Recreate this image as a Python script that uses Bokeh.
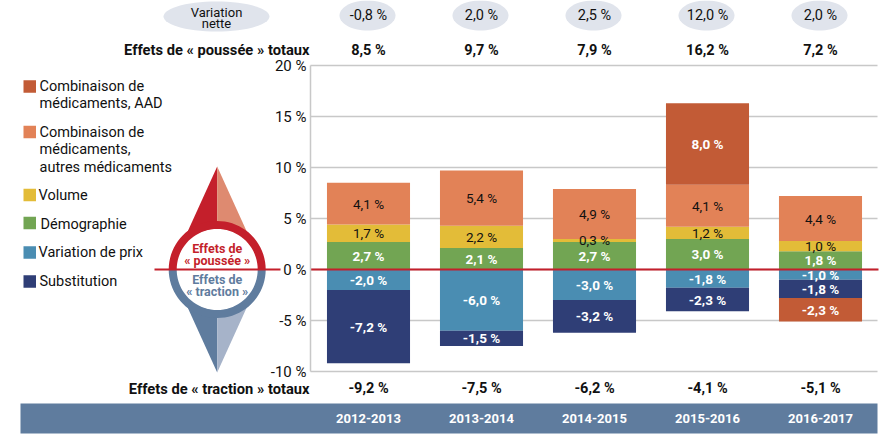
import math
from bokeh.plotting import figure
from bokeh.models import (Range1d, Label, LabelSet, ColumnDataSource, PolyAnnotation,
                          FixedTicker, LinearAxis)
from bokeh.core.properties import value
from bokeh.embed import file_html
from bokeh.resources import INLINE

years = ["2012-2013", "2013-2014", "2014-2015", "2015-2016", "2016-2017"]
net_change = ["-0,8 %", "2,0 %", "2,5 %", "12,0 %", "2,0 %"]
push_totals = ["8,5 %", "9,7 %", "7,9 %", "16,2 %", "7,2 %"]
pull_totals = ["-9,2 %", "-7,5 %", "-6,2 %", "-4,1 %", "-5,1 %"]
demographie = [2.7, 2.1, 2.7, 3.0, 1.8]
volume = [1.7, 2.2, 0.3, 1.2, 1.0]
combo_autres = [4.1, 5.4, 4.9, 4.1, 4.4]
combo_aad = [0, 0, 0, 8.0, -2.3]
prix = [-2.0, -6.0, -3.0, -1.8, -1.0]
substitution = [-7.2, -1.5, -3.2, -2.3, -1.8]
y_ticks = [-10, -5, 0, 5, 10, 15, 20]

C_AAD, C_AUT, C_VOL, C_DEM, C_PRI, C_SUB = "#C25B36", "#E28257", "#E3BC38", "#72A553", "#4A8DB2", "#2F3E76"
RED, BLUE = "#C41F2B", "#5F7C9E"
FONT = "Roboto"

W, H = 892, 438
X0, DX = 368.0, 113.0      # pixel of first category, pixels per category
Y0, DY = 269.0, 10.2       # pixel of 0 %, pixels per percentage point
idx = list(range(5))

p = figure(width=W, height=H, output_backend="svg", toolbar_location=None,
           x_axis_location=None, y_axis_location=None,
           x_range=Range1d(-X0 / DX, (W - X0) / DX),
           y_range=Range1d((Y0 - H) / DY, Y0 / DY),
           min_border=0, outline_line_color=None, background_fill_color="white")
p.grid.visible = False


def xd(x):
    return (x - X0) / DX


def poly(xs, ys, color):
    p.add_layout(PolyAnnotation(xs=xs, ys=ys, xs_units="canvas", ys_units="canvas", fill_color=color,
                                fill_alpha=1, line_color=None, line_alpha=0, level="underlay"))


def arc(cx, cy, r, a0, a1, n=40):
    return [(cx + r * math.cos(math.radians(a0 + (a1 - a0) * i / n)),
             cy - r * math.sin(math.radians(a0 + (a1 - a0) * i / n))) for i in range(n + 1)]


def ellipse(cx, cy, rx, ry, color):
    pts = arc(0, 0, 1, 0, 360, 60)
    poly([cx + rx * a for a, _ in pts], [cy + ry * b for _, b in pts], color)


def txt(x, y, s, size=14, color="#111111", align="left", style="normal", font=FONT):
    p.add_layout(Label(x=x, y=y, x_units="canvas", y_units="canvas", text=s, text_font=font,
                       text_font_size=f"{size}px", text_color=color, text_align=align,
                       text_baseline="middle", text_font_style=style))


# gridlines and axis
p.segment(x0=[xd(310)] * len(y_ticks), x1=[xd(877)] * len(y_ticks), y0=y_ticks, y1=y_ticks,
          line_color="#C8C8C8", line_width=1.5, level="underlay")
ya = LinearAxis(fixed_location=xd(310), ticker=FixedTicker(ticks=y_ticks), bounds=(-10, 20))
ya.major_label_overrides = {t: f"{t} %" for t in y_ticks}
ya.major_tick_line_color = None
ya.minor_tick_line_color = None
ya.major_tick_out = 0
ya.major_tick_in = 0
ya.axis_line_color = "#C8C8C8"
ya.axis_line_width = 1.5
ya.major_label_text_font = FONT
ya.major_label_text_font_size = "15px"
ya.major_label_text_color = "#111111"
ya.major_label_standoff = 4
p.add_layout(ya, "left")

# banner
poly([20, 877, 877, 20], [403, 403, 433, 433], "#5F7C9E")


def stack(series, colors, dark):
    base = [0.0] * 5
    for vals, col, d in zip(series, colors, dark):
        keep = [i for i in idx if vals[i] != 0]
        bot = [base[i] for i in keep]
        top = [base[i] + vals[i] for i in keep]
        p.vbar(x=keep, bottom=bot, top=top, width=0.735, fill_color=col, line_color=None)
        for i in keep:
            base[i] += vals[i]
        labels = [f"{vals[i]:.1f} %".replace(".", ",") for i in keep]
        mids = [(a + b) / 2 for a, b in zip(bot, top)]
        yield keep, mids, labels, d


pos_aad = [v if v > 0 else 0 for v in combo_aad]
neg_aad = [v if v < 0 else 0 for v in combo_aad]
layers = list(stack([demographie, volume, combo_autres, pos_aad],
                    [C_DEM, C_VOL, C_AUT, C_AAD], ["white", "#111111", "#111111", "white"]))
layers += list(stack([prix, substitution, neg_aad], [C_PRI, C_SUB, C_AAD], ["white", "white", "white"]))

# zero line
p.segment(x0=[xd(154), xd(310)], x1=[xd(280), xd(878)], y0=[0, 0], y1=[0, 0],
          line_color=RED, line_width=2.2)
for ks, mids, labels, c in layers:
    p.text(x=ks, y=mids, text=labels, text_color=c, text_align="center", text_baseline="middle",
           text_font=value(FONT), text_font_size="13.5px",
           text_font_style="normal" if c != "white" else "bold")

# rows above / below the plot, on the chart's x scale
for cx in [X0 + DX * i for i in idx]:
    ellipse(cx - 1, 15, 28, 15, "#E0E4EC")
ellipse(216, 16, 53, 15, "#E0E4EC")
for rows, y_pix, size, style, col in [
    (push_totals, 49.5, 14.5, "bold", "#111111"),
    (pull_totals, 388, 14.5, "bold", "#111111"),
    (net_change, 15, 14.5, "normal", "#111111"),
    (years, 418, 13, "bold", "white"),
]:
    src = ColumnDataSource(dict(x=idx, t=rows, y=[H - y_pix] * 5))
    p.add_layout(LabelSet(x="x", y="y", y_units="screen", text="t", source=src, text_align="center",
                          text_baseline="middle", text_font=value(FONT), text_font_size=f"{size}px",
                          text_color=col, text_font_style=style))

txt(216, 12, "Variation", 13, align="center")
txt(216, 22.5, "nette", 13, align="center")
txt(309, 49.5, "Effets de « poussée » totaux", 14.7, align="right", style="bold")
txt(309, 388, "Effets de « traction » totaux", 14.7, align="right", style="bold")

# legend
for y, col in [(86, C_AAD), (131.5, C_AUT), (194.5, C_VOL), (222.5, C_DEM), (252, C_PRI), (281, C_SUB)]:
    poly([23, 35.5, 35.5, 23], [y - 6.2, y - 6.2, y + 6.2, y + 6.2], col)
for x, y, s in [(39, 86, "Combinaison de"), (39, 103, "médicaments, AAD"), (39, 132, "Combinaison de"),
                (39, 149, "médicaments,"), (39, 167, "autres médicaments"), (38, 195, "Volume"),
                (40, 224, "Démographie"), (38, 252, "Variation de prix"), (39, 281, "Substitution")]:
    txt(x, y, s, 14.5)

# compass
CX, CY = 216.7, 269
poly([CX, CX, 186.7], [166, 235, 232], RED)
poly([CX, CX, 246.7], [166, 235, 232], "#DE8A70")
poly([CX, CX, 186.7], [372, 303, 306], BLUE)
poly([CX, CX, 246.7], [372, 303, 306], "#A6B3C9")
disc = arc(CX, CY, 41, 0, 360, 80)
poly([a for a, _ in disc], [b for _, b in disc], "white")
up = arc(CX, CY, 48.5, 0, 180) + arc(CX, CY, 40.5, 180, 0)
lo = arc(CX, CY, 48.5, 180, 360) + arc(CX, CY, 40.5, 360, 180)
poly([a for a, _ in up], [b for _, b in up], RED)
poly([a for a, _ in lo], [b for _, b in lo], BLUE)
txt(CX, 247.5, "Effets de", 12.5, RED, "center", "bold")
txt(CX, 260, "« poussée »", 12.5, RED, "center", "bold")
txt(CX, 279, "Effets de", 12.5, BLUE, "center", "bold")
txt(CX, 291, "« traction »", 12.5, BLUE, "center", "bold")

open("out.html", "w").write(file_html(p, INLINE))
